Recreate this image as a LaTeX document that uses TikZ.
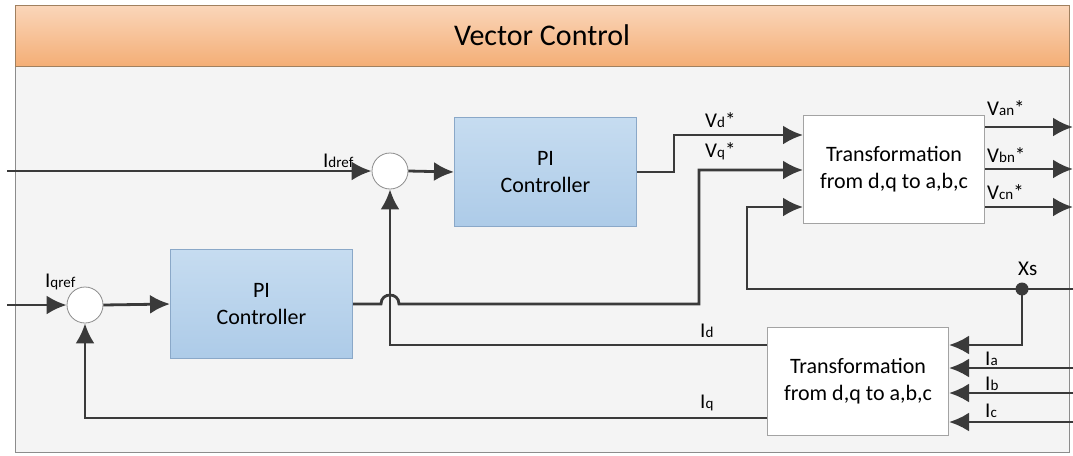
\documentclass[tikz,border=0pt]{standalone}
\usepackage{fontspec}
\setmainfont{Carlito}
\usetikzlibrary{arrows.meta}

\definecolor{bodybg}{HTML}{F4F4F4}
\definecolor{framegray}{HTML}{8C8C8C}
\definecolor{titletop}{HTML}{FAD6BA}
\definecolor{titlebot}{HTML}{F4AE76}
\definecolor{titleline}{HTML}{A0805F}
\definecolor{pitop}{HTML}{C6DCF0}
\definecolor{pibot}{HTML}{ADCBE8}
\definecolor{piline}{HTML}{8AA8C8}
\definecolor{wire}{HTML}{3A3A3A}

\newcommand{\lsub}[1]{{\fontsize{15}{15}\selectfont #1}}

\begin{document}
\begin{tikzpicture}[
  x=1pt, y=-1pt, >={Latex[length=20pt,width=19pt]},
  font=\fontsize{22}{27}\selectfont,
  flow/.style={draw=wire, line width=2.8pt},
  pibox/.style={draw=piline, line width=1pt, top color=pitop, bottom color=pibot,
                minimum width=182pt, minimum height=109pt, align=center},
  trbox/.style={draw=framegray!80, line width=1pt, fill=white,
                minimum width=181pt, minimum height=108pt, align=center},
  sumpt/.style={circle, draw=framegray, line width=0.8pt, fill=white, minimum size=36pt, inner sep=0pt},
  joint/.style={circle, fill=wire, minimum size=13pt, inner sep=0pt},
  lbl/.style={anchor=base west, inner sep=0pt, font=\fontsize{21}{21}\selectfont}
]
  \useasboundingbox (0,0) rectangle (1073,455);

  % frame and title bar
  \fill[bodybg] (15,66) rectangle (1069,452);
  \draw[framegray, line width=1pt] (15,5) rectangle (1069,452);
  \node[draw=titleline, line width=1pt, top color=titletop, bottom color=titlebot,
        minimum width=1054pt, minimum height=61pt, font=\fontsize{30}{30}\selectfont]
        (title) at (542,35.5) {Vector Control};

  % blocks
  \node[sumpt] (sumd) at (390,171) {};
  \node[sumpt] (sumq) at (85,305) {};
  \node[pibox] (pid) at (545.5,172) {PI\\Controller};
  \node[pibox] (piq) at (261.5,304) {PI\\Controller};
  \node[trbox] (trv) at (894,169) {Transformation\\from d,q to a,b,c};
  \node[trbox] (tri) at (858,381.5) {Transformation\\from d,q to a,b,c};
  \node[joint] (xs) at (1022,289) {};

  % free ends
  \coordinate (idin) at (7,171);
  \coordinate (iqin) at (7,305);
  \coordinate (xsin) at (1073,289);
  \coordinate (xsturn) at (747,289);
  \coordinate (vqturn) at (699,304);
  \coordinate (hop) at (390,304);
  \coordinate (vaout) at (1073,127);
  \coordinate (vbout) at (1073,169);
  \coordinate (vcout) at (1073,207);
  \coordinate (iain) at (1073,368);
  \coordinate (ibin) at (1073,393);
  \coordinate (icin) at (1073,422);

  % d axis
  \draw[flow,->] (idin) -- (sumd.west);
  \draw[flow,->] (sumd.east) -- (pid.west);
  \draw[flow,->] (pid.east) -- ++(37,0) |- ([yshift=34pt]trv.west);

  % q axis
  \draw[flow,->] (iqin) -- (sumq.west);
  \draw[flow,->] (sumq.east) -- (piq.west);
  \draw[flow,->] (piq.east) -- ([xshift=-9pt]hop)
    .. controls ([xshift=-9pt,yshift=12pt]hop) and ([xshift=9pt,yshift=12pt]hop) .. ([xshift=9pt]hop)
    -- (vqturn) |- ([yshift=-1pt]trv.west);

  % angle
  \draw[flow,->] (xsin) -- (xs.center) -- (xsturn) |- ([yshift=-38pt]trv.west);
  \draw[flow,->] (xs.center) |- ([yshift=36.5pt]tri.east);

  % outputs
  \draw[flow,->] ([yshift=42pt]trv.east) -- (vaout);
  \draw[flow,->] (trv.east) -- (vbout);
  \draw[flow,->] ([yshift=-38pt]trv.east) -- (vcout);

  % measured currents
  \draw[flow,->] (iain) -- ([yshift=13.5pt]tri.east);
  \draw[flow,->] (ibin) -- ([yshift=-11.5pt]tri.east);
  \draw[flow,->] (icin) -- ([yshift=-40.5pt]tri.east);

  % feedback
  \draw[flow,->] ([yshift=36.5pt]tri.west) -| (sumd.south);
  \draw[flow,->] ([yshift=-36.5pt]tri.west) -| (sumq.south);

  % labels
  \node[lbl] (lidref) at (323,167) {I\lsub{dref}};
  \node[lbl] (liqref) at (45,287) {I\lsub{qref}};
  \node[lbl] (lvd) at (705,127) {V\lsub{d}*};
  \node[lbl] (lvq) at (705,157) {V\lsub{q}*};
  \node[lbl] (lva) at (987,115) {V\lsub{an}*};
  \node[lbl] (lvb) at (987,162) {V\lsub{bn}*};
  \node[lbl] (lvc) at (987,199) {V\lsub{cn}*};
  \node[lbl] (lid) at (700,337) {I\lsub{d}};
  \node[lbl] (liq) at (700,408) {I\lsub{q}};
  \node[lbl] (lia) at (985,365) {I\lsub{a}};
  \node[lbl] (lib) at (985,390) {I\lsub{b}};
  \node[lbl] (lic) at (985,417) {I\lsub{c}};
  \node[lbl] (lxs) at (1018,275) {Xs};
\end{tikzpicture}
\end{document}
